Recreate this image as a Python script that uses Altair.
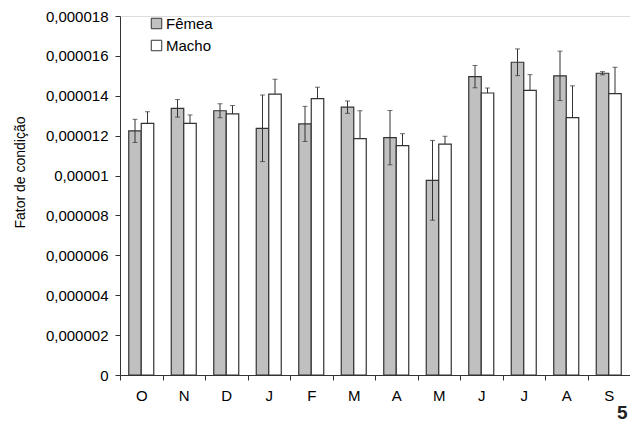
import altair as alt
import pandas as pd

# --- data ---
meses = ["O", "N", "D", "J", "F", "M", "A", "M", "J", "J", "A", "S"]
femea = [0.00001224, 0.00001337, 0.00001325, 0.00001237, 0.00001259, 0.00001343,
         0.00001190, 0.00000976, 0.00001496, 0.00001568, 0.00001500, 0.00001513]
femea_err = [0.00000058, 0.00000044, 0.00000035, 0.00000167, 0.00000088, 0.00000031,
             0.00000136, 0.00000200, 0.00000056, 0.00000067, 0.00000124, 0.00000008]
macho = [0.00001262, 0.00001262, 0.00001309, 0.00001408, 0.00001386, 0.00001185,
         0.00001150, 0.00001158, 0.00001414, 0.00001427, 0.00001290, 0.00001411]
macho_err = [0.00000058, 0.00000042, 0.00000042, 0.00000075, 0.00000057, 0.00000140,
             0.00000060, 0.00000039, 0.00000025, 0.00000079, 0.00000160, 0.00000132]
y_ticks = [0, 0.000002, 0.000004, 0.000006, 0.000008, 0.00001,
           0.000012, 0.000014, 0.000016, 0.000018]
sexos = ["Fêmea", "Macho"]

# unique keys for repeated month letters (trailing spaces, trimmed in labels)
keys = []
seen = {}
for m in meses:
    n = seen.get(m, 0)
    keys.append(m + " " * n)
    seen[m] = n + 1

rows = []
for i, k in enumerate(keys):
    rows.append({"mes": k, "sexo": "Fêmea", "valor": femea[i],
                 "lo": femea[i] - femea_err[i], "hi": femea[i] + femea_err[i], "both": True})
    rows.append({"mes": k, "sexo": "Macho", "valor": macho[i],
                 "lo": macho[i], "hi": macho[i] + macho_err[i], "both": False})
df = pd.DataFrame(rows)

FONT = "Liberation Sans"
DARK = "#333333"

x_enc = alt.X("mes:N", sort=keys,
              scale=alt.Scale(paddingInner=0, paddingOuter=0),
              axis=alt.Axis(title=None, labelAngle=0, tickBand="extent",
                            labelExpr="trim(datum.label)", labelFontSize=15,
                            labelColor="black", labelPadding=8, tickSize=5,
                            tickColor=DARK, domainColor=DARK, labelFont=FONT))
xoff = alt.XOffset("sexo:N", sort=sexos,
                   scale=alt.Scale(paddingInner=0, paddingOuter=0.7))
y_scale = alt.Scale(domain=[0, 0.000018], nice=False)

base = alt.Chart(df)

bars = base.mark_bar(stroke=DARK, strokeWidth=1.2).encode(
    x=x_enc,
    xOffset=xoff,
    y=alt.Y("valor:Q", scale=y_scale,
            axis=alt.Axis(title="Fator de condição", values=y_ticks, tickCount=20,
                          labelExpr="replace(toString(datum.value), '.', ',')",
                          labelOverlap=False,
                          labelFontSize=15, labelColor="black", labelFont=FONT,
                          labelPadding=7, tickSize=5, tickColor=DARK,
                          domainColor=DARK, grid=False,
                          titleFont=FONT, titleFontSize=14, titleFontWeight="normal",
                          titleColor="black", titleX=-96, titleY=156,
                          titleAlign="center", titleBaseline="alphabetic")),
    color=alt.Color("sexo:N", sort=sexos,
                    scale=alt.Scale(domain=sexos, range=["#c0c0c0", "#ffffff"]),
                    legend=alt.Legend(title=None, orient="none", legendX=29, legendY=0,
                                      symbolType="square", symbolSize=110,
                                      symbolStrokeColor=DARK, symbolStrokeWidth=1,
                                      labelFontSize=15, labelFont=FONT, labelColor="black",
                                      labelOffset=2, rowPadding=6)),
)

rules = base.mark_rule(color=DARK, strokeWidth=1).encode(
    x=x_enc, xOffset=xoff,
    y=alt.Y("lo:Q", scale=y_scale), y2="hi:Q")

caps_top = base.mark_tick(color=DARK, size=5, thickness=1).encode(
    x=x_enc, xOffset=xoff, y=alt.Y("hi:Q", scale=y_scale))

caps_bot = base.transform_filter("datum.both").mark_tick(
    color=DARK, size=5, thickness=1).encode(
    x=x_enc, xOffset=xoff, y=alt.Y("lo:Q", scale=y_scale))

page = alt.Chart(pd.DataFrame({"t": ["5"]})).mark_text(
    fontSize=19, fontWeight="bold", font=FONT, align="left", baseline="top",
    color="#222222").encode(text="t:N", x=alt.value(497), y=alt.value(388))

chart = alt.layer(bars, rules, caps_top, caps_bot, page).properties(
    width=510, height=359,
    autosize=alt.AutoSizeParams(type="none"),
    padding={"left": 120, "top": 16, "right": 0, "bottom": 50},
).configure_view(stroke=None).configure(background="white")

chart.save("out.html", embed_options={"renderer": "svg", "actions": False})
